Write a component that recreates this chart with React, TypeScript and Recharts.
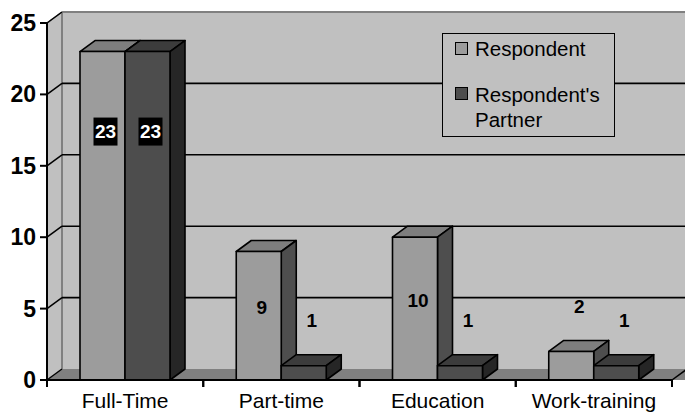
import React from 'react';
import * as R from 'recharts';

const { BarChart, Bar, XAxis, YAxis, CartesianGrid, Legend, LabelList } = R as any;

const categories = ['Full-Time', 'Part-time', 'Education', 'Work-training'];
const respondent = [23, 9, 10, 2];
const partner = [23, 1, 1, 1];
const yTicks = [0, 5, 10, 15, 20, 25];
const seriesNames = ['Respondent', "Respondent's", 'Partner'];

const data = categories.map((c, i) => ({ name: c, respondent: respondent[i], partner: partner[i] }));

const DX = 15;
const DY = 11;
const FONT = "Arial, 'Liberation Sans', sans-serif";

const COLORS = {
  resp: { face: '#9c9c9c', top: '#7e7e7e', side: '#4e4e4e' },
  part: { face: '#4d4d4d', top: '#3c3c3c', side: '#262626' },
};

function make3D(c: { face: string; top: string; side: string }) {
  return (props: any) => {
    const { x, y, width: w, height: h } = props;
    if (x == null || h == null) return <g />;
    return (
      <g stroke="#000" strokeWidth={1.6} strokeLinejoin="round">
        <polygon points={`${x},${y} ${x + DX},${y - DY} ${x + w + DX},${y - DY} ${x + w},${y}`} fill={c.top} />
        <polygon points={`${x + w},${y} ${x + w + DX},${y - DY} ${x + w + DX},${y + h - DY} ${x + w},${y + h}`} fill={c.side} />
        <rect x={x} y={y} width={w} height={h} fill={c.face} />
      </g>
    );
  };
}

const renderLabel = (props: any) => {
  const { x, y, width, height, value } = props;
  const v = Number(value);
  const small = v < 5;
  const cx = x + width / 2 + (small ? 8 : 3);
  const cy = small ? y - 45 : y + Math.min(height / 2 - 8, 80);
  const boxed = v >= 20;
  return (
    <g>
      {boxed && <rect x={cx - 12} y={cy - 14} width={24} height={28} fill="#000" />}
      <text x={cx} y={cy + 6.5} textAnchor="middle" fontFamily={FONT} fontWeight="bold" fontSize={19} fill={boxed ? '#fff' : '#000'}>
        {value}
      </text>
    </g>
  );
};

function wallShapes(L: number, T: number, Rt: number, B: number) {
  return (
    <g>
      <polygon points={`${L + DX},${T - DY} ${Rt + DX + 20},${T - DY} ${Rt + DX + 20},${B - DY} ${L + DX},${B - DY}`} fill="#c0c0c0" />
      <polygon points={`${L},${T} ${L + DX},${T - DY} ${L + DX},${B - DY} ${L},${B}`} fill="#c0c0c0" />
      <polygon points={`${L},${B} ${L + DX},${B - DY} ${Rt + DX + 20},${B - DY} ${Rt + 20},${B}`} fill="#808080" />
      <line x1={L + DX} y1={T - DY} x2={Rt + DX + 20} y2={T - DY} stroke="#808080" strokeWidth={2} />
      <line x1={L + DX} y1={T - DY} x2={L + DX} y2={B - DY} stroke="#808080" strokeWidth={2} />
      <line x1={L} y1={T} x2={L + DX} y2={T - DY} stroke="#808080" strokeWidth={1.5} />
      <line x1={L} y1={B} x2={L + DX} y2={B - DY} stroke="#a8a8a8" strokeWidth={1.5} />
      <line x1={Rt} y1={B} x2={Rt + DX} y2={B - DY} stroke="#000" strokeWidth={1.5} />
    </g>
  );
}

const gridLine = (props: any) => {
  const { x1, y1, x2, y2, y, height, index } = props;
  const hasBox = y != null && height != null;
  const isEdge = hasBox && (Math.abs(y1 - y) < 1 || Math.abs(y1 - (y + height)) < 1);
  return (
    <g key={props.key}>
      {index === 0 && hasBox && wallShapes(x1, y, x2, y + height)}
      {!isEdge && <line x1={x1 + DX} y1={y1 - DY} x2={x2 + DX + 20} y2={y2 - DY} stroke="#000" strokeWidth={1.6} />}
    </g>
  );
};

const YTick = (props: any) => {
  const { x, y, payload } = props;
  return (
    <g>
      <line x1={x - 7} y1={y} x2={x} y2={y} stroke="#000" strokeWidth={2} />
      <line x1={x} y1={y} x2={x + DX} y2={y - DY} stroke="#000" strokeWidth={1.5} />
      <text x={x - 11} y={y + 8} textAnchor="end" fontFamily={FONT} fontWeight="bold" fontSize={23} fill="#000">
        {payload.value}
      </text>
    </g>
  );
};

const XTick = (props: any) => {
  const { x, y, payload } = props;
  const off = payload && payload.offset != null ? payload.offset : 78;
  return (
    <g>
      <line x1={x - off} y1={y} x2={x - off} y2={y + 7} stroke="#000" strokeWidth={2} />
      <line x1={x + off} y1={y} x2={x + off} y2={y + 7} stroke="#000" strokeWidth={2} />
      <text x={x} y={y + 28} textAnchor="middle" fontFamily={FONT} fontSize={21} fill="#000">
        {payload.value}
      </text>
    </g>
  );
};

const LegendBox = () => (
  <div style={{ position: 'relative', width: 173, height: 104, boxSizing: 'border-box', border: '1.6px solid #000', background: '#c0c0c0', fontFamily: FONT, fontSize: 20.5, color: '#000' }}>
    <div style={{ position: 'absolute', left: 12, top: 8, width: 13, height: 13, border: '1.6px solid #000', background: COLORS.resp.face, boxSizing: 'border-box' }} />
    <div style={{ position: 'absolute', left: 32, top: 4, lineHeight: '22px', whiteSpace: 'nowrap' }}>{seriesNames[0]}</div>
    <div style={{ position: 'absolute', left: 12, top: 53, width: 13, height: 13, border: '1.6px solid #000', background: COLORS.part.face, boxSizing: 'border-box' }} />
    <div style={{ position: 'absolute', left: 32, top: 48, lineHeight: '25px', whiteSpace: 'nowrap' }}>
      {seriesNames[1]}
      <br />
      {seriesNames[2]}
    </div>
  </div>
);

export default function App() {
  return (
    <div style={{ width: 685, height: 414, background: '#fff' }}>
      <style>{'body{margin:0}'}</style>
      <BarChart width={685} height={414} data={data} margin={{ top: 23, right: 13, bottom: 0, left: 0 }} barCategoryGap={33} barGap={0}>
        <CartesianGrid vertical={false} horizontal={gridLine} />
        <XAxis dataKey="name" height={34} tickSize={0} tickMargin={0} tick={<XTick />} axisLine={{ stroke: '#000', strokeWidth: 2 }} interval={0} />
        <YAxis width={47} domain={[0, 25]} ticks={yTicks} tickSize={0} tickMargin={0} tick={<YTick />} axisLine={{ stroke: '#000', strokeWidth: 2 }} interval={0} />
        <Legend layout="horizontal" verticalAlign="middle" align="center" content={<LegendBox />} wrapperStyle={{ position: 'absolute', left: 442, top: 33, width: 173, height: 104 }} />
        <Bar dataKey="respondent" name="Respondent" shape={make3D(COLORS.resp)} isAnimationActive={false}>
          <LabelList dataKey="respondent" content={renderLabel} />
        </Bar>
        <Bar dataKey="partner" name="Respondent's Partner" shape={make3D(COLORS.part)} isAnimationActive={false}>
          <LabelList dataKey="partner" content={renderLabel} />
        </Bar>
      </BarChart>
    </div>
  );
}
